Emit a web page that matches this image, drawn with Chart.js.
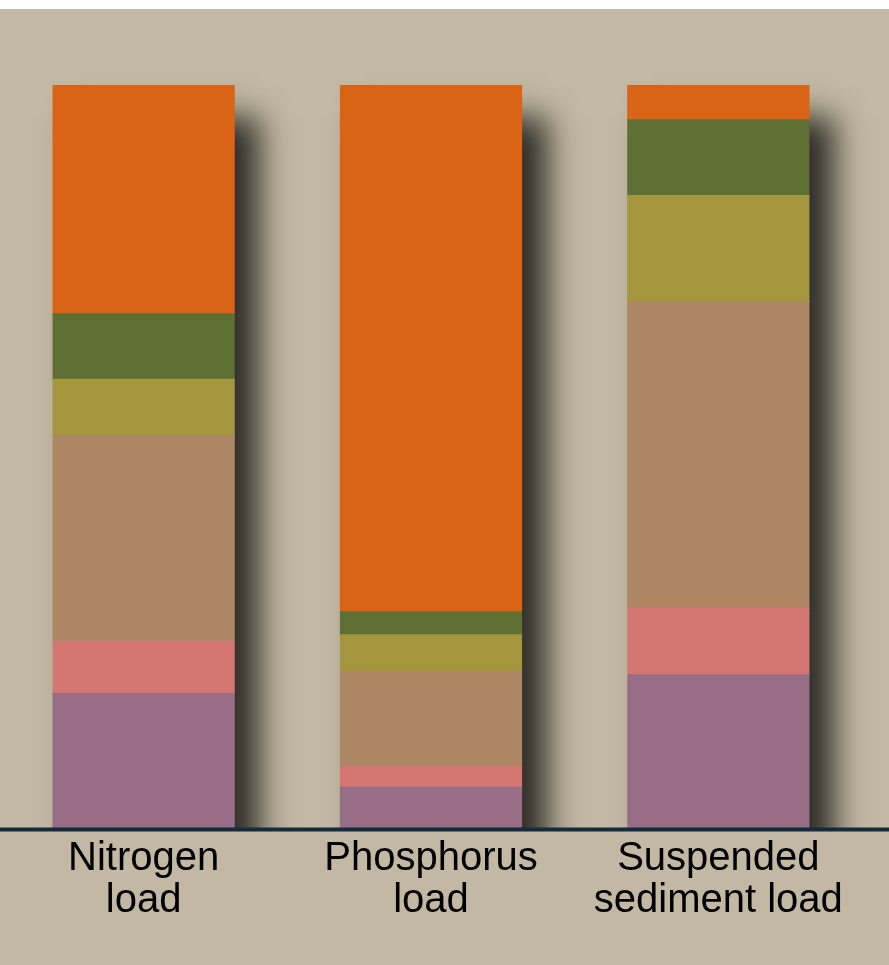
<!DOCTYPE html>
<html>
<head>
<meta charset="utf-8">
<script src="https://cdn.jsdelivr.net/npm/chart.js@4/dist/chart.umd.min.js"></script>
<style>
  html, body { margin: 0; padding: 0; background: #fff; }
  #wrap { position: absolute; left: 0; top: 9px; width: 889px; height: 956px; background: #c2b8a3; }
</style>
</head>
<body>
<div id="wrap"><canvas id="loadChart"></canvas></div>
<script>
// categories (x axis tick labels, multi-line)
const categories = [['Nitrogen', 'load'], ['Phosphorus', 'load'], ['Suspended', 'sediment load']];

// stacked shares in percent, bottom to top
const sourceNames = ['Source 1', 'Source 2', 'Source 3', 'Source 4', 'Source 5', 'Source 6'];
const purpleVals = [18.1, 5.5, 20.6];
const pinkVals   = [7.0, 2.8, 9.0];
const brownVals  = [27.7, 12.8, 41.2];
const oliveVals  = [7.6, 4.9, 14.3];
const greenVals  = [8.8, 3.1, 10.2];
const orangeVals = [30.8, 70.9, 4.7];

const seriesValues = [purpleVals, pinkVals, brownVals, oliveVals, greenVals, orangeVals];
const seriesColors = ['#986d86', '#d47672', '#ad8663', '#a3963c', '#5e6f33', '#d96416'];

const SHADOW = 'rgba(46,44,38,1)';

// drop shadow behind every stacked column + baseline across the full width
const shadowPlugin = {
  id: 'columnShadow',
  beforeDatasetsDraw(chart) {
    const { ctx, scales: { y } } = chart;
    const top = chart.getDatasetMeta(seriesValues.length - 1).data;
    const bottom = y.getPixelForValue(0);
    const shift = 5000; // draw the rect off-canvas, only its shadow lands on the chart
    ctx.save();
    ctx.beginPath();
    ctx.rect(0, 0, chart.width, bottom);
    ctx.clip();
    ctx.shadowColor = SHADOW;
    ctx.shadowBlur = 30;
    ctx.shadowOffsetX = 25 + shift;
    ctx.shadowOffsetY = 32;
    ctx.fillStyle = SHADOW;
    top.forEach(bar => {
      const p = bar.getProps(['x', 'y', 'width'], true);
      ctx.fillRect(p.x - p.width / 2 - shift, p.y, p.width, bottom - p.y + 60);
    });
    ctx.restore();
  },
  afterDatasetsDraw(chart) {
    const { ctx, scales: { y } } = chart;
    const yb = y.getPixelForValue(0) + 1.5;
    ctx.save();
    ctx.strokeStyle = '#132b3c';
    ctx.lineWidth = 4;
    ctx.beginPath();
    ctx.moveTo(0, yb);
    ctx.lineTo(chart.width, yb);
    ctx.stroke();
    ctx.restore();
  },
};

new Chart(document.getElementById('loadChart'), {
  type: 'bar',
  data: {
    labels: categories,
    datasets: seriesValues.map((vals, i) => ({
      label: sourceNames[i],
      data: vals,
      backgroundColor: seriesColors[i],
      borderWidth: 0,
      inflateAmount: 0.6,
      categoryPercentage: 1,
      barPercentage: 0.63,
    })),
  },
  options: {
    responsive: true, maintainAspectRatio: false, animation: false,
    layout: { padding: { top: 76, left: 0, right: 27, bottom: 41 } },
    plugins: { legend: { display: false }, tooltip: { enabled: false } },
    scales: {
      x: {
        stacked: true,
        grid: { display: false },
        border: { display: false },
        ticks: {
          color: '#000',
          padding: 2,
          font: { family: '"Liberation Sans", Arial, sans-serif', size: 40, lineHeight: 1.05 },
          maxRotation: 0, autoSkip: false,
        },
      },
      y: {
        stacked: true, min: 0, max: 100, display: false,
      },
    },
  },
  plugins: [shadowPlugin],
});
</script>
</body>
</html>
